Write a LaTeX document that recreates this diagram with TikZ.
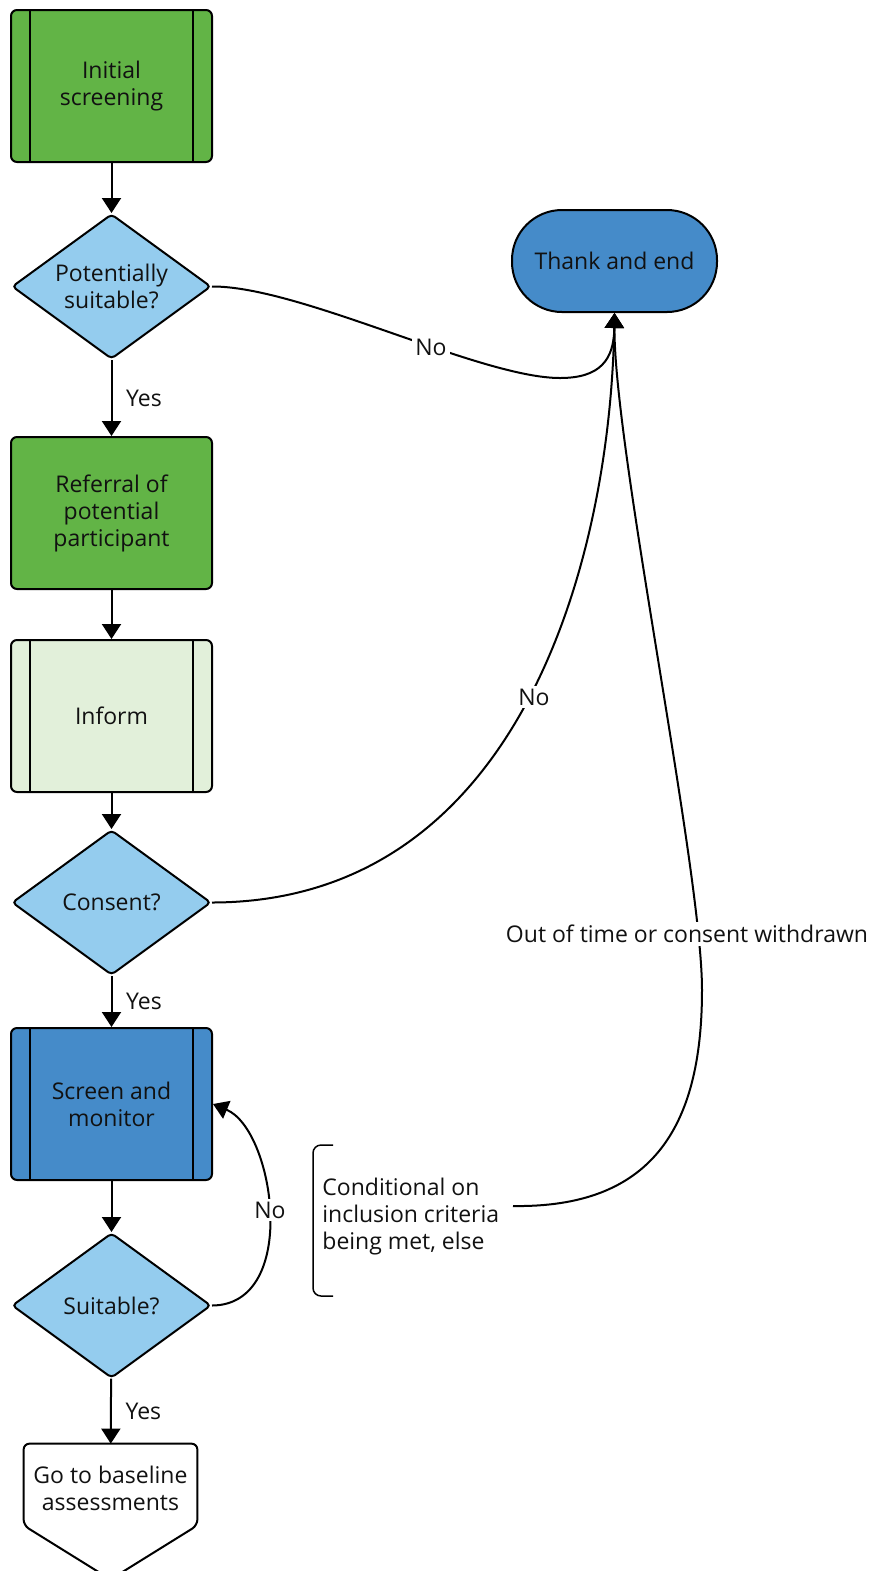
\documentclass[tikz,border=0pt]{standalone}
\usepackage{fontspec}
\setmainfont{Open Sans}
\usetikzlibrary{shapes.geometric,arrows.meta}
\definecolor{grn}{HTML}{62B446}
\definecolor{lgrn}{HTML}{E2F0DA}
\definecolor{lblu}{HTML}{94CCEE}
\definecolor{blu}{HTML}{458BC9}
\definecolor{txt}{HTML}{111111}
\begin{document}
\begin{tikzpicture}[x=0.5pt,y=-0.5pt,
 font=\fontsize{11.5}{13.5}\selectfont,
 every node/.style={text=txt},
 box/.style={draw, line width=1pt, rounded corners=3pt, minimum width=100.5pt, minimum height=76pt, align=center, inner sep=0pt},
 sub/.style={box, path picture={\draw[line width=1pt] ([xshift=9.5pt]path picture bounding box.north west) -- ([xshift=9.5pt]path picture bounding box.south west); \draw[line width=1pt] ([xshift=-9.5pt]path picture bounding box.north east) -- ([xshift=-9.5pt]path picture bounding box.south east);}},
 dec/.style={diamond, draw, fill=lblu, line width=1pt, rounded corners=2pt, minimum width=99.5pt, minimum height=72.5pt, aspect=1.37, inner sep=0pt, align=center},
 arr/.style={line width=1pt, -{Triangle[width=9.5pt,length=7.5pt]}},
 lab/.style={fill=white, inner sep=1.5pt},
 yes/.style={anchor=west, xshift=3.5pt}
]
\useasboundingbox (0,0) rectangle (872,1571);
\node[sub, fill=grn] (init) at (111.5,86) {Initial\\screening};
\node[dec] (d1) at (111.5,286.5) {Potentially\\suitable?};
\node[box, fill=grn] (ref) at (111.5,513) {Referral of\\potential\\participant};
\node[sub, fill=lgrn] (inf) at (111.5,716) {Inform};
\node[dec] (d2) at (111.5,902.5) {Consent?};
\node[sub, fill=blu] (scr) at (111.5,1104) {Screen and\\monitor};
\node[dec] (d3) at (111.5,1305.5) {Suitable?};
\node[minimum width=86.5pt, minimum height=44pt, inner sep=0pt, align=center] (base) at (110.5,1488) {Go to baseline\\assessments};
\draw[line width=1pt, rounded corners=3pt] ([yshift=3.5pt]base.south west) -- (base.north west) -- (base.north east) -- ([yshift=3.5pt]base.south east) -- ([yshift=-23.5pt]base.south) -- cycle;
\node[draw, fill=blu, line width=1pt, rounded corners=25pt, minimum width=102.5pt, minimum height=51pt] (te) at (614.5,261) {Thank and end};
\node[anchor=west, align=left, inner sep=0pt] (cond) at (322,1217) {Conditional on\\inclusion criteria\\being met, else};
\coordinate (c1) at (513,1206);
\draw[line width=0.75pt, rounded corners=4pt] (333,1145) -- (313,1145) -- (313,1296) -- (333,1296);

\draw[arr] (init) -- (d1);
\draw[arr] (d1) -- node[yes]{Yes} (ref);
\draw[arr] (ref) -- (inf);
\draw[arr] (inf) -- (d2);
\draw[arr] (d2) -- node[yes]{Yes} (scr);
\draw[arr] (scr) -- (d3);
\draw[arr] (d3) -- node[yes]{Yes} (base);

\draw[arr] (d1.east) .. controls (300,286) and (480,378) .. (560,378) .. controls (600,378) and (614,360) .. (te.south);
\draw[arr] (d2.east) .. controls (520,902) and (610,560) .. (te.south);
\draw[arr] (c1) .. controls (650,1208) and (702,1130) .. (702,990) .. controls (702,870) and (614,450) .. (te.south);
\draw[arr] (d3.east) .. controls (300,1305) and (275,1130) .. (scr.east);

\node[lab] at (431,347) {No};
\node[lab] at (534,697) {No};
\node[lab] at (687,934) {Out of time or consent withdrawn};
\node[lab] at (270,1210) {No};
\end{tikzpicture}
\end{document}
